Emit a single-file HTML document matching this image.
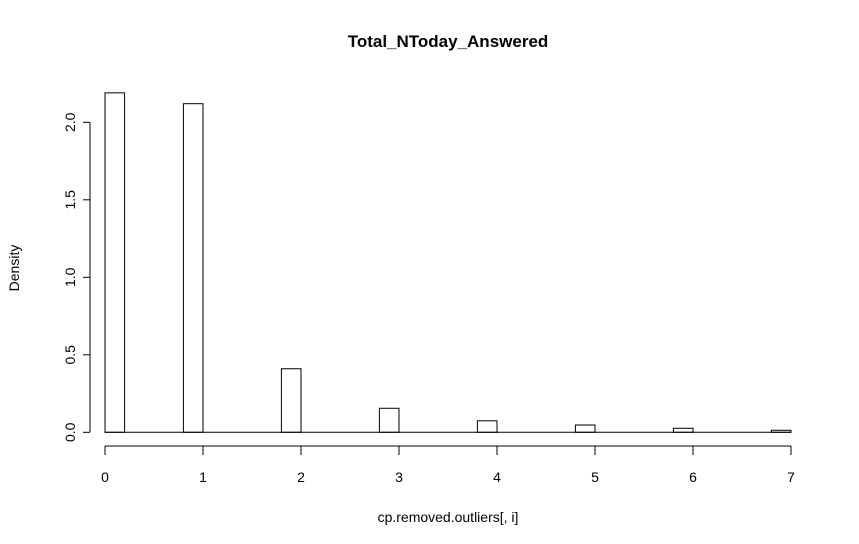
<!DOCTYPE html>
<html><head><meta charset="utf-8"><style>
html,body{margin:0;padding:0;background:#fff;}
svg{display:block;font-family:"Liberation Sans",Arial,sans-serif;}
</style></head><body>
<svg id="chart" width="859" height="544">
<rect width="859" height="544" fill="#fff"/>
<text x="448" y="47" text-anchor="middle" font-weight="bold" font-size="17">Total_NToday_Answered</text>
<text x="448" y="522" text-anchor="middle" font-size="14">cp.removed.outliers[, i]</text>
<text x="0" y="0" transform="translate(19,268) rotate(-90)" text-anchor="middle" font-size="14">Density</text>
<g id="bars"></g><g id="xaxis"></g><g id="yaxis"></g>
</svg>
<script>
const binStarts=[0,0.8,1.8,2.8,3.8,4.8,5.8,6.8];
const densities=[2.19,2.12,0.41,0.155,0.074,0.047,0.026,0.013];
const binWidth=0.2;
const xTicks=[0,1,2,3,4,5,6,7];
const yTicks=[0,0.5,1,1.5,2];
const yTickLabels=["0.0","0.5","1.0","1.5","2.0"];
const NS="http://www.w3.org/2000/svg";
const xs=v=>105+v*98;
const ys=v=>432.3-v*155;
function mk(tag,attrs,parent){const e=document.createElementNS(NS,tag);for(const k in attrs)e.setAttribute(k,attrs[k]);parent.appendChild(e);return e;}
const gb=document.getElementById('bars');
binStarts.forEach((b,i)=>{
  const r=mk('rect',{x:xs(b),y:ys(densities[i]),width:xs(b+binWidth)-xs(b),height:ys(0)-ys(densities[i]),fill:'none',stroke:'#000','stroke-width':1},gb);
  
  
});
const base=mk('line',{x1:xs(0),x2:xs(7),y1:ys(0),y2:ys(0),stroke:'#000'},gb);


const gx=document.getElementById('xaxis');
mk('line',{x1:xs(xTicks[0]),x2:xs(xTicks[xTicks.length-1]),y1:446,y2:446,stroke:'#000'},gx);
xTicks.forEach(t=>{
  mk('line',{x1:xs(t),x2:xs(t),y1:446,y2:455,stroke:'#000'},gx);
  const tx=mk('text',{x:xs(t),y:482,'text-anchor':'middle','font-size':14},gx);
  tx.textContent=t;
  
  
});
const gy=document.getElementById('yaxis');
mk('line',{x1:90,x2:90,y1:ys(yTicks[0]),y2:ys(yTicks[yTicks.length-1]),stroke:'#000'},gy);
yTicks.forEach((t,i)=>{
  mk('line',{x1:83,x2:90,y1:ys(t),y2:ys(t),stroke:'#000'},gy);
  const tx=mk('text',{x:0,y:0,transform:`translate(75,${ys(t)}) rotate(-90)`,'text-anchor':'middle','font-size':14},gy);
  tx.textContent=yTickLabels[i];
  
  
});
</script>
</body></html>
